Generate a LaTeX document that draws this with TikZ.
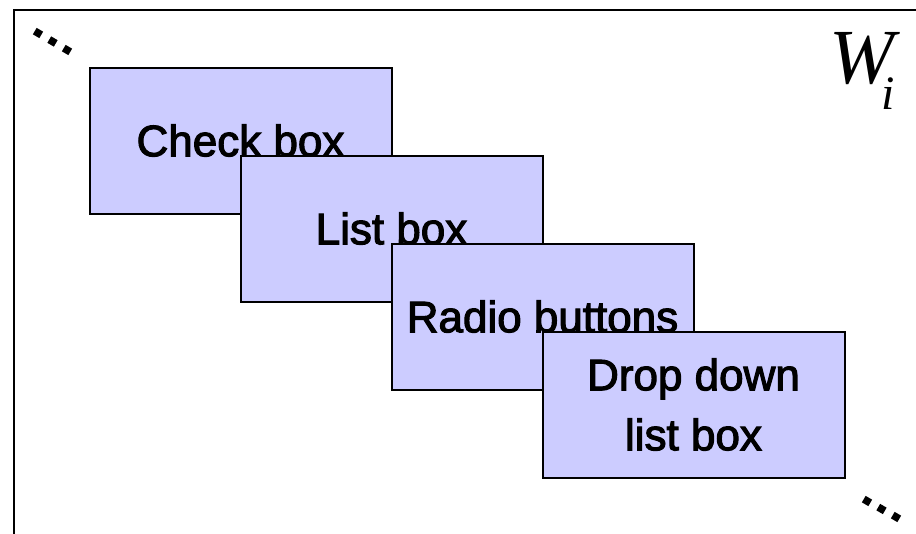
\documentclass[tikz,border=0pt]{standalone}
\usepackage{fontspec}
\setmainfont{Liberation Sans}
\newfontfamily\boxfont[FakeBold=2.5]{Liberation Sans}
\newfontfamily\timesfont{Liberation Serif}
\usetikzlibrary{positioning,calc}
\definecolor{boxlilac}{RGB}{204,204,255}

\begin{document}
\begin{tikzpicture}[x=1pt, y=-1pt,
    ctrlbox/.style={rectangle, draw=black, line width=2pt, fill=boxlilac,
        minimum width=302pt, minimum height=146pt, inner sep=0pt,
        font=\boxfont\fontsize{44}{60}\selectfont, align=center},
    dotmark/.style={rectangle, fill=black, rotate=-30, minimum size=7.5pt, inner sep=0pt}
]
    \useasboundingbox (0,0) rectangle (916,533);
    \clip (0,0) rectangle (916,533);

    % window frame, runs past the right and bottom edges
    \draw[line width=2.2pt] (14,10) rectangle (950,570);

    % stacked controls, each one covering the one before
    \node[ctrlbox] (check) at (240.5,140.5) {Check box};
    \node[ctrlbox] (list) at ($(check)+(151,88)$) {List box};
    \node[ctrlbox] (radio) at ($(list)+(151,88)$) {Radio buttons};
    \node[ctrlbox] (drop) at ($(radio)+(151,88)$) {Drop down\\list box};

    % window name
    \node[font=\timesfont\itshape\fontsize{78}{78}\selectfont, anchor=base west, inner sep=0pt]
        (wname) at (829,83) {W\kern-13pt\raisebox{-26pt}{\fontsize{48}{48}\selectfont i}};

    % ellipses at the corners
    \foreach \k in {0,1,2} {
        \node[dotmark] (tl\k) at ($(38,33)+\k*(14.5,8.5)$) {};
        \node[dotmark] (br\k) at ($(867,501)+\k*(14.5,8)$) {};
    }
\end{tikzpicture}
\end{document}
